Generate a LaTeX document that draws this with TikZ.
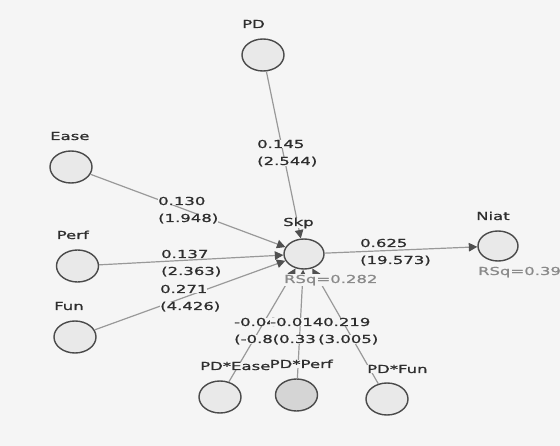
\documentclass[tikz,border=0pt]{standalone}
\usepackage{fontspec}
\usetikzlibrary{shapes.geometric,arrows.meta}
\newfontfamily\plsfont{DejaVu Sans}[FakeStretch=1.5,FakeBold=1]
\definecolor{panel}{HTML}{F5F5F5}
\definecolor{lvfill}{HTML}{E9E9E9}
\definecolor{lvsel}{HTML}{D5D5D5}
\definecolor{lvline}{HTML}{4A4A4A}
\definecolor{pathline}{HTML}{999999}
\definecolor{tipcol}{HTML}{505050}
\definecolor{txt}{HTML}{2E2E2E}
\definecolor{rsqcol}{HTML}{8A8A8A}

\tikzset{
  lv/.style={ellipse, draw=lvline, line width=1.4pt, fill=lvfill,
    minimum width=42pt, minimum height=32pt, inner sep=0pt},
  pathedge/.style={draw=pathline, line width=1.2pt,
    -{Triangle[length=8.5pt,width=8.5pt,color=tipcol]}},
  txtbase/.style={font=\plsfont\fontsize{11}{13}\selectfont,
    inner sep=0pt, anchor=base west, fill=panel},
  lvname/.style={txtbase, text=txt},
  coef/.style={txtbase, text=txt},
  rsqlabel/.style={txtbase, text=rsqcol, inner sep=0.8pt},
}

\begin{document}
\begin{tikzpicture}[x=1pt,y=-1pt]
  % canvas
  \fill[panel] (0,0) rectangle (560,446);
  \useasboundingbox (0,0) rectangle (560,446);

  % latent variables
  \node[lv] (PD)     at (263,55)  {};
  \node[lv] (Ease)   at (71,167)  {};
  \node[lv] (Perf)   at (77.5,266) {};
  \node[lv] (Fun)    at (75,337)  {};
  \node[lv, minimum width=40pt, minimum height=30pt] (Skp)  at (304,254) {};
  \node[lv, minimum width=40pt, minimum height=30pt] (Niat) at (498,246) {};
  \node[lv] (PDEase) at (220,397) {};
  \node[lv, fill=lvsel] (PDPerf) at (296.5,395) {};
  \node[lv] (PDFun)  at (387,399) {};

  % structural paths
  \draw[pathedge] (PD)     -- (Skp);
  \draw[pathedge] (Ease)   -- (Skp);
  \draw[pathedge] (Perf)   -- (Skp);
  \draw[pathedge] (Fun)    -- (Skp);
  \draw[pathedge] (PDEase) -- (Skp);
  \draw[pathedge] (PDPerf) -- (Skp);
  \draw[pathedge] (PDFun)  -- (Skp);
  \draw[pathedge] (Skp)    -- (Niat);

  % construct names
  \node[lvname] (PD-n)     at ([xshift=-21pt,yshift=27pt]PD.center)     {PD};
  \node[lvname] (Ease-n)   at ([xshift=-21pt,yshift=27pt]Ease.center)   {Ease};
  \node[lvname] (Perf-n)   at ([xshift=-21pt,yshift=27pt]Perf.center)   {Perf};
  \node[lvname] (Fun-n)    at ([xshift=-21pt,yshift=27pt]Fun.center)    {Fun};
  \node[lvname] (Skp-n)    at ([xshift=-21pt,yshift=28pt]Skp.center)    {Skp};
  \node[lvname] (Niat-n)   at ([xshift=-22pt,yshift=26pt]Niat.center)   {Niat};
  \node[lvname] (PDEase-n) at ([xshift=-20pt,yshift=27pt]PDEase.center) {PD*Ease};
  \node[lvname] (PDPerf-n) at ([xshift=-27pt,yshift=27pt]PDPerf.center) {PD*Perf};
  \node[lvname] (PDFun-n)  at ([xshift=-20pt,yshift=26pt]PDFun.center)  {PD*Fun};

  % explained variance
  \node[rsqlabel] (Skp-r)  at ([xshift=-21pt,yshift=-29pt]Skp.center)  {RSq=0.282};
  \node[rsqlabel] (Niat-r) at ([xshift=-21pt,yshift=-29pt]Niat.center) {RSq=0.39};

  % path coefficients with t values
  \node[coef] (c1a) at (257,148) {0.145};
  \node[coef] (c1b) at (257,165) {(2.544)};
  \node[coef] (c2a) at (158,205) {0.130};
  \node[coef] (c2b) at (158,222) {(1.948)};
  \node[coef] (c3a) at (161,258) {0.137};
  \node[coef] (c3b) at (161,275) {(2.363)};
  \node[coef] (c4a) at (160,293) {0.271};
  \node[coef] (c4b) at (160,310) {(4.426)};
  \node[coef] (c5a) at (360,247) {0.625};
  \node[coef] (c5b) at (360,264) {(19.573)};
  \node[coef] (c6a) at (234,326) {-0.04};
  \node[coef] (c6b) at (234,343) {(-0.8};
  \node[coef] (c7a) at (270,326) {-0.014};
  \node[coef] (c7b) at (272.5,343) {(0.33};
  \node[coef] (c8a) at (323,326) {0.219};
  \node[coef] (c8b) at (318,343) {(3.005)};
\end{tikzpicture}
\end{document}
